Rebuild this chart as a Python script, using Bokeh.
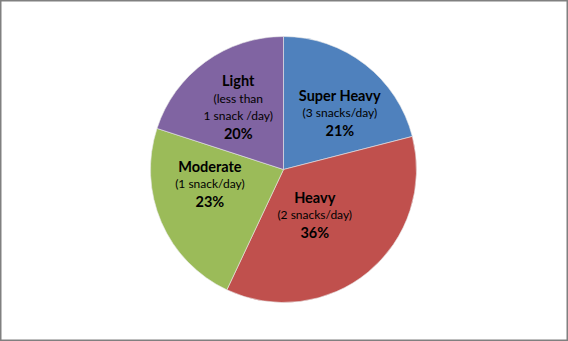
import math
from bokeh.plotting import figure
from bokeh.models import Range1d, ColumnDataSource
from bokeh.core.properties import value
from bokeh.embed import file_html
from bokeh.resources import INLINE

# ---- data ----
categories = ["Super Heavy", "Heavy", "Moderate", "Light"]
subtitles = [["(3 snacks/day)"], ["(2 snacks/day)"], ["(1 snack/day)"], ["(less than", "1 snack /day)"]]
shares = [21, 36, 23, 20]
colors = ["#4F81BD", "#C0504D", "#9BBB59", "#8064A2"]

# ---- layout ----
W, H = 568, 341
cx, cy, R = 283, H - 169, 133
lab_r = [80, 55, 75, 77]
lab_dang = [7, 5, 12.4, 0]
font = value("Lato")

p = figure(width=W, height=H, output_backend="svg", toolbar_location=None,
           x_range=Range1d(0, W), y_range=Range1d(0, H), min_border=0)
p.axis.visible = False
p.grid.visible = False
p.outline_line_color = "#808080"
p.outline_line_width = 2
p.background_fill_color = "white"
p.border_fill_color = "white"

total = float(sum(shares))
starts, ends, mids = [], [], []
cum = 0.0
for s in shares:
    a0 = cum / total * 360.0
    cum += s
    a1 = cum / total * 360.0
    starts.append(math.radians(90 - a1))
    ends.append(math.radians(90 - a0))
    mids.append((a0 + a1) / 2)

src = ColumnDataSource(dict(x=[cx] * 4, y=[cy] * 4, start=starts, end=ends, color=colors))
p.wedge(x="x", y="y", radius=R, start_angle="start", end_angle="end",
        direction="anticlock", fill_color="color", line_color="#E8E8E8", line_width=0.6, source=src)

tx, ty, tt, tstyle, tsize = [], [], [], [], []
for i, name in enumerate(categories):
    a = math.radians(mids[i] + lab_dang[i])
    lx = cx + lab_r[i] * math.sin(a)
    ly = cy + lab_r[i] * math.cos(a)
    lines = [(name, "bold", "14.5px")] + [(s, "normal", "12px") for s in subtitles[i]] + \
            [(f"{shares[i]}%", "bold", "14.5px")]
    n = len(lines)
    for k, (t, st, sz) in enumerate(lines):
        off = (k - (n - 1) / 2) * 17.5
        tx.append(lx)
        ty.append(ly - off)
        tt.append(t)
        tstyle.append(st)
        tsize.append(sz)

tsrc = ColumnDataSource(dict(x=tx, y=ty, text=tt, style=tstyle, size=tsize))
p.text(x="x", y="y", text="text", text_font=font, text_font_style="style",
       text_font_size="size", text_align="center", text_baseline="middle",
       text_color="black", source=tsrc)

open("out.html", "w").write(file_html(p, INLINE))
